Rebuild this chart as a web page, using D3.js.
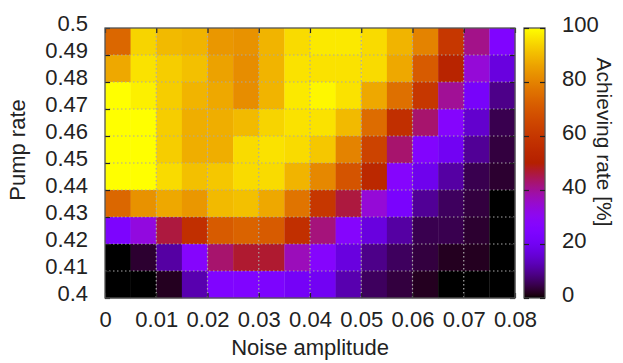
<!DOCTYPE html>
<html><head><meta charset="utf-8">
<script src="https://cdn.jsdelivr.net/npm/d3@7"></script>
<style>
html,body{margin:0;padding:0;background:#fff;}
svg text{font-family:"Liberation Sans",Arial,sans-serif;fill:#222;}
</style></head>
<body><svg id="chart" width="623" height="363"></svg>
<script>
// Column starts (noise amplitude), cell width 0.005
const noiseStarts = [0,0.005,0.01,0.015,0.02,0.025,0.03,0.035,0.04,0.045,0.05,0.055,0.06,0.065,0.07,0.075];
const noiseStep = 0.005;
// Row starts (pump rate), cell height 0.01
const pumpStarts = [0.49,0.48,0.47,0.46,0.45,0.44,0.43,0.42,0.41,0.40];
const pumpStep = 0.01;
// Achieving rate [%], one row per pump rate (top to bottom)
const achieving = [
  [74,94,90,89,84,83,89,95, 97,97,95,89,80,60,41,25],
  [87,96,93,91,86,82,89,96, 96,96,95,87,71,52,34,17],
  [100,98,93,89,87,82,89,97, 99,96,87,76,60,40,22,9],
  [100,100,93,88,88,90,94,96, 96,90,75,57,43,27,15,5],
  [100,100,93,88,88,95,96,95, 92,80,64,43,26,20,10,4],
  [100,100,95,91,92,95,95,89, 81,69,54,27,19,11,5,3],
  [74,83,87,84,90,91,87,77, 60,46,34,23,10,6,4,0],
  [24,33,46,57,71,73,71,57, 42,27,17,11,5,5,3,0],
  [0,3,11,27,43,47,47,37, 27,17,9,6,4,2,2,0],
  [0,0,2,12,25,25,24,21, 20,12,6,4,2,0,0,0]
];
const xTicks = [0,0.01,0.02,0.03,0.04,0.05,0.06,0.07,0.08];
const yTicks = [0.4,0.41,0.42,0.43,0.44,0.45,0.46,0.47,0.48,0.49,0.5];
const cbTicks = [0,20,40,60,80,100];

const svg = d3.select("#chart");
const L = 105, R = 515, T = 28, B = 298;
const x = d3.scaleLinear().domain([0,0.08]).range([L,R]);
const y = d3.scaleLinear().domain([0.4,0.5]).range([B,T]);

function palette(p){
  const v = Math.max(0, Math.min(1, p/100));
  const r = Math.sqrt(v), g = v*v*v, b = Math.max(0, Math.sin(2*Math.PI*v));
  return d3.rgb(Math.round(255*r), Math.round(255*g), Math.round(255*b)).toString();
}
const color = d3.scaleSequential(t => palette(t*100)).domain([0,100]);

const cells = [];
pumpStarts.forEach((py,i)=>noiseStarts.forEach((nx,j)=>cells.push({nx,py,v:achieving[i][j]})));
svg.append("g").selectAll("rect").data(cells).join("rect")
  .attr("x", d=>x(d.nx)).attr("y", d=>y(d.py+pumpStep))
  .attr("width", d=>x(d.nx+noiseStep)-x(d.nx)+0.3)
  .attr("height", d=>y(d.py)-y(d.py+pumpStep)+0.3)
  .attr("fill", d=>color(d.v));

// grid
const grid = svg.append("g").attr("stroke","#a8a8a8").attr("stroke-width",1.2).attr("stroke-dasharray","1.5,2.5");
grid.selectAll("line.vx").data(xTicks.slice(1,-1)).join("line")
  .attr("x1",d=>x(d)).attr("x2",d=>x(d)).attr("y1",T).attr("y2",B);
grid.selectAll("line.hy").data(yTicks.slice(1,-1)).join("line")
  .attr("y1",d=>y(d)).attr("y2",d=>y(d)).attr("x1",L).attr("x2",R);

const fmt = d3.format(".2~f");
function styleAxis(g){
  g.select(".domain").remove();
  g.selectAll(".tick line").attr("stroke","#222").attr("stroke-width",1.2);
  g.selectAll(".tick text").attr("font-size","22px").attr("fill","#222");
}
svg.append("g").attr("transform",`translate(0,${B})`)
  .call(d3.axisBottom(x).tickValues(xTicks).tickFormat(fmt).tickSize(-5).tickPadding(13)).call(styleAxis);
svg.append("g").attr("transform",`translate(0,${T})`)
  .call(d3.axisTop(x).tickValues(xTicks).tickFormat("").tickSize(-5)).call(styleAxis);
const yAx = svg.append("g").attr("transform",`translate(${L},0)`)
  .call(d3.axisLeft(y).tickValues(yTicks).tickFormat(fmt).tickSize(-5).tickPadding(17)).call(styleAxis);
yAx.selectAll(".tick text").attr("y",-5);
svg.append("g").attr("transform",`translate(${R},0)`)
  .call(d3.axisRight(y).tickValues(yTicks).tickFormat("").tickSize(-5)).call(styleAxis);

svg.append("rect").attr("x",L).attr("y",T).attr("width",R-L).attr("height",B-T)
  .attr("fill","none").attr("stroke","#555").attr("stroke-width",1.3);

// colorbar
const cbL = 524, cbR = 545;
const cy = d3.scaleLinear().domain([0,100]).range([B,T]);
const defs = svg.append("defs");
const grad = defs.append("linearGradient").attr("id","cbgrad").attr("x1",0).attr("y1",1).attr("x2",0).attr("y2",0);
grad.selectAll("stop").data(d3.range(0,101,1)).join("stop")
  .attr("offset",d=>d+"%").attr("stop-color",d=>color(d));
svg.append("rect").attr("x",cbL).attr("y",T).attr("width",cbR-cbL).attr("height",B-T)
  .attr("fill","url(#cbgrad)").attr("stroke","#555").attr("stroke-width",1.3);
const cbAx = svg.append("g").attr("transform",`translate(${cbR},0)`)
  .call(d3.axisRight(cy).tickValues(cbTicks).tickSize(-5).tickPadding(17)).call(styleAxis);
cbAx.selectAll(".tick text").attr("y",-4);
svg.append("g").attr("transform",`translate(${cbL},0)`)
  .call(d3.axisLeft(cy).tickValues(cbTicks).tickFormat("").tickSize(-5)).call(styleAxis);

// axis titles
svg.append("text").attr("x",(L+R)/2).attr("y",355).attr("text-anchor","middle")
  .attr("font-size","22px").text("Noise amplitude");
svg.append("text").attr("transform","translate(25,150) rotate(-90)").attr("text-anchor","middle")
  .attr("font-size","22px").text("Pump rate");
svg.append("text").attr("transform","translate(597,142) rotate(90)").attr("text-anchor","middle")
  .attr("font-size","21px").text("Achieving rate [%]");
</script></body></html>
